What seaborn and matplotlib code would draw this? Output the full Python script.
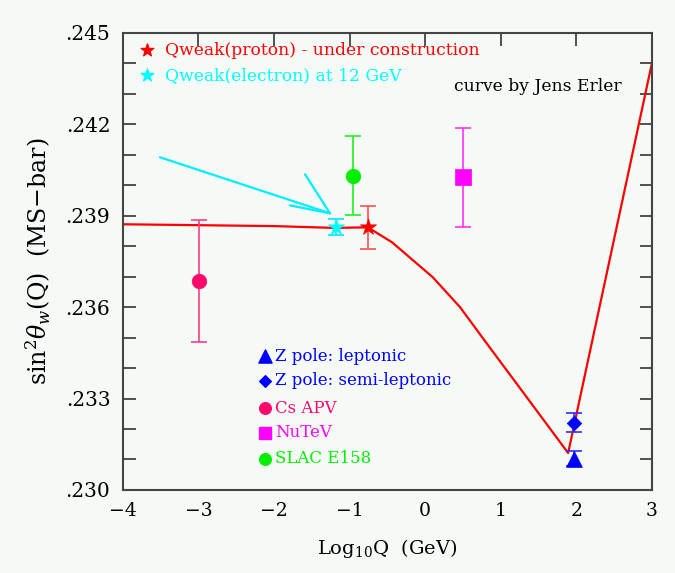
import numpy as np
import pandas as pd
import matplotlib
matplotlib.use("Agg")
import matplotlib.pyplot as plt
import seaborn as sns
from matplotlib.ticker import FixedLocator

# ---- data ----
curve_x = [-4.0, -3.0, -2.0, -1.2, -0.76, -0.44, 0.10, 0.46, 0.81, 1.34, 1.89, 3.0]
curve_y = [0.23872, 0.23869, 0.23866, 0.23860, 0.23862, 0.23813, 0.23698, 0.23600,
           0.23482, 0.23305, 0.23121, 0.24403]

point_names = ["Qweak(proton)", "Qweak(electron)", "Z pole: leptonic",
               "Z pole: semi-leptonic", "Cs APV", "NuTeV", "SLAC E158"]
point_x = [-0.76, -1.18, 1.97, 1.97, -2.99, 0.50, -0.95]
point_y = [0.23862, 0.23863, 0.23102, 0.23221, 0.23685, 0.24026, 0.24031]
point_err = [0.00070, 0.00026, 0.00025, 0.00030, 0.00200, 0.00163, 0.00130]

arrow_tail = (-3.51, 0.24092)
arrow_tip = (-1.26, 0.23908)
arrow_barbs = [(-1.59, 0.24036), (-1.79, 0.23934)]

x_ticks = [-4, -3, -2, -1, 0, 1, 2, 3]
y_ticks = [0.230, 0.233, 0.236, 0.239, 0.242, 0.245]
y_tick_labels = [".230", ".233", ".236", ".239", ".242", ".245"]

top_legend = ["Qweak(proton) - under construction", "Qweak(electron) at 12 GeV"]
bottom_legend = ["Z pole: leptonic", "Z pole: semi-leptonic", "Cs APV", "NuTeV", "SLAC E158"]

# ---- styles ----
bg = "#f5faf7"
marker_col = ["#ff0000", "#00ffff", "#0000ff", "#0000ff", "#ff0a6c", "#ff00ff", "#00ee00"]
err_col = ["#ff5050", "#00e8ff", "#3030ff", "#3030ff", "#ff3c88", "#ff30ff", "#22ee22"]
markers = ["*", "*", "^", "D", "o", "s", "o"]
msizes = [150, 150, 130, 55, 110, 120, 110]

sns.set_theme(style="white")
plt.rcParams["font.family"] = ["DejaVu Serif"]
plt.rcParams["mathtext.fontset"] = "dejavuserif"

fig = plt.figure(figsize=(6.75, 5.73), dpi=100, facecolor=bg)
ax = fig.add_axes([0.182, 0.145, 0.784, 0.7975])
ax.set_facecolor(bg)

df_curve = pd.DataFrame({"x": curve_x, "y": curve_y})
sns.lineplot(data=df_curve, x="x", y="y", color="#ff0000", lw=1.6, ax=ax, zorder=2)

# arrow lines
ax.plot([arrow_tail[0], arrow_tip[0]], [arrow_tail[1], arrow_tip[1]], color="#00eeff", lw=1.6, zorder=3)
for b in arrow_barbs:
    ax.plot([b[0], arrow_tip[0]], [b[1], arrow_tip[1]], color="#00eeff", lw=1.6, zorder=3)

df_pts = pd.DataFrame({"name": point_names, "x": point_x, "y": point_y, "err": point_err})
for i, row in df_pts.iterrows():
    ax.errorbar(row.x, row.y, yerr=row.err, fmt="none", ecolor=err_col[i],
                elinewidth=1.2, capsize=6, capthick=1.2, zorder=3)
    sns.scatterplot(x=[row.x], y=[row.y], marker=markers[i], s=msizes[i],
                    color=marker_col[i], edgecolor=marker_col[i], linewidth=0.5,
                    ax=ax, zorder=4, legend=False)

ax.set_xlim(-4, 3)
ax.set_ylim(0.230, 0.245)

ax.xaxis.set_major_locator(FixedLocator(x_ticks))
ax.set_xticklabels([f"{t}" if t >= 0 else "\u2212" + f"{-t}" for t in x_ticks])
ax.yaxis.set_major_locator(FixedLocator(y_ticks))
ax.set_yticklabels(y_tick_labels)
ax.yaxis.set_minor_locator(FixedLocator(list(np.arange(0.230, 0.2451, 0.001))))
ax.tick_params(axis="both", which="both", direction="in", top=True, right=True,
               length=9, width=1.2, color="#333333", labelcolor="black")
ax.tick_params(axis="x", labelsize=13.5, pad=9)
ax.tick_params(axis="y", labelsize=14.5, pad=9)
ax.tick_params(axis="y", which="both", left=True, right=True)
for s in ax.spines.values():
    s.set_color("#444444")
    s.set_linewidth(1.5)

ax.set_xlabel(r"Log$_{10}$Q  (GeV)", fontsize=14, labelpad=12, color="black")
ax.set_ylabel(r"sin$^2\theta_w$(Q)  (MS$-$bar)", fontsize=17, labelpad=9, color="black")

# top legend
tcols = ["#ff0000", "#00ffff"]
for j, (txt, yy) in enumerate(zip(top_legend, [0.962, 0.907])):
    ax.scatter([0.045], [yy], transform=ax.transAxes, marker="*", s=90, color=tcols[j], zorder=5)
    ax.text(0.080, yy, txt, transform=ax.transAxes, color=tcols[j], fontsize=12.3,
            va="center", ha="left")

ax.text(0.943, 0.882, "curve by Jens Erler", transform=ax.transAxes, color="black",
        fontsize=12.3, va="center", ha="right")

# bottom legend
leg_idx = [2, 3, 4, 5, 6]
leg_ms = [90, 35, 70, 80, 70]
text_cols = ["#0000ff", "#0000ff", "#ff0a6c", "#ff00ff", "#00ee00"]
for k, (txt, yy) in enumerate(zip(bottom_legend, [0.293, 0.239, 0.179, 0.125, 0.068])):
    i = leg_idx[k]
    ax.scatter([0.268], [yy], transform=ax.transAxes, marker=markers[i], s=leg_ms[k],
               color=marker_col[i], zorder=5)
    ax.text(0.288, yy, txt, transform=ax.transAxes, color=text_cols[k], fontsize=12,
            va="center", ha="left")

fig.savefig("out.png", dpi=100, facecolor=bg)
